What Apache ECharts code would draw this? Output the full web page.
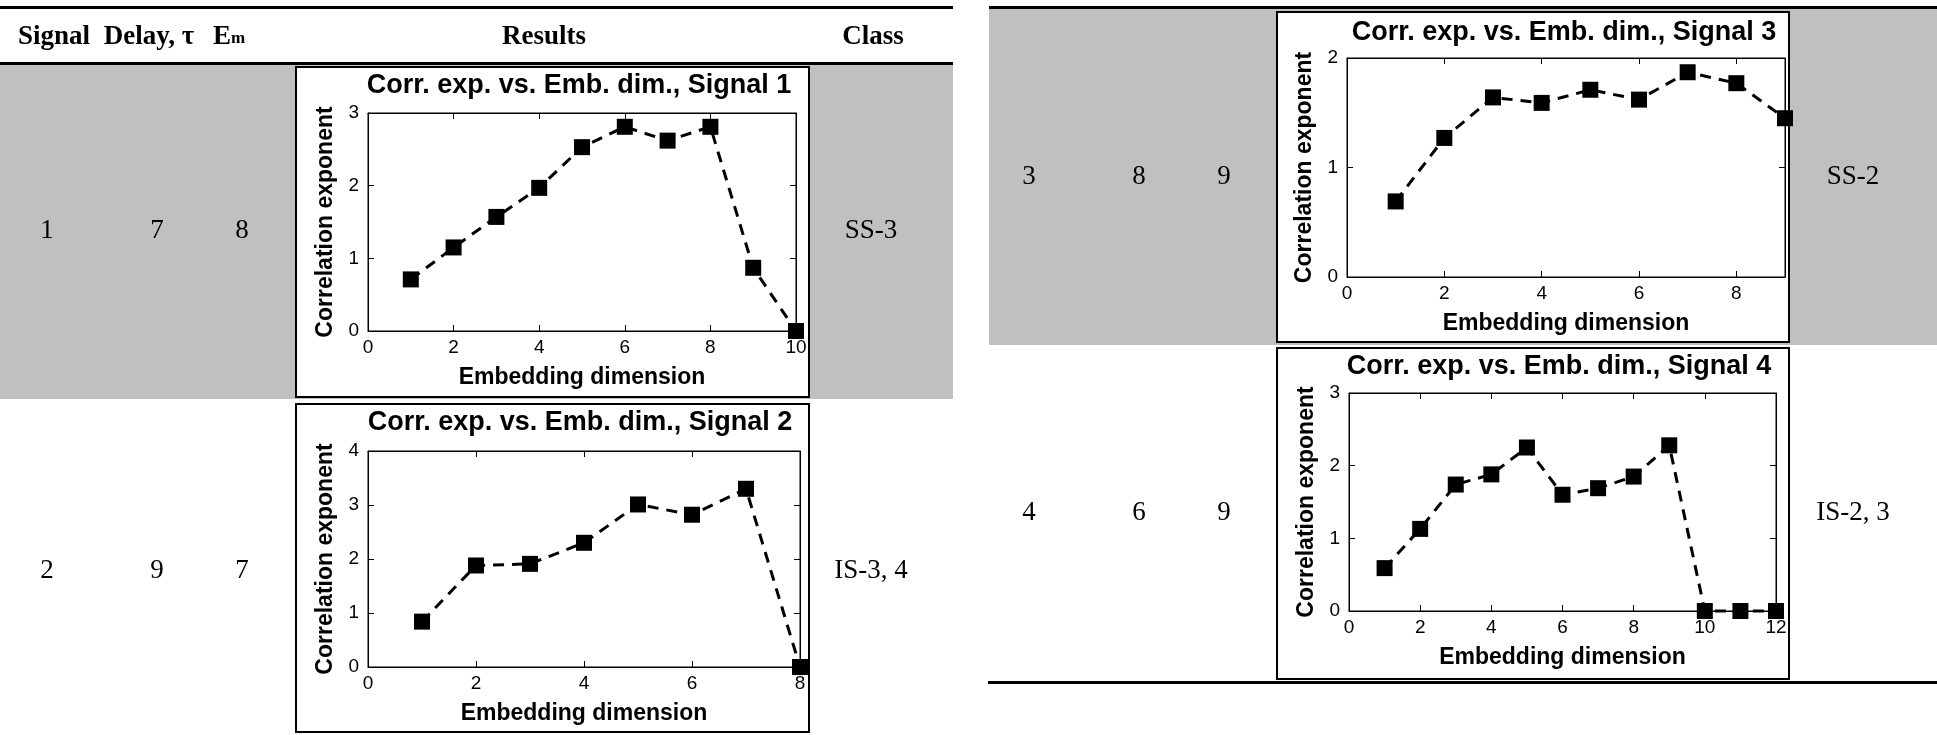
<!DOCTYPE html>
<html>
<head>
<meta charset="utf-8">
<script src="https://cdn.jsdelivr.net/npm/echarts@6/dist/echarts.min.js"></script>
<style>
  html, body { margin: 0; padding: 0; background: #fff; }
  #chart { width: 1937px; height: 735px; }
</style>
</head>
<body>
<div id="chart"></div>
<script>
// Table columns
const headers = ['Signal', 'Delay, τ', 'E', 'Results', 'Class'];
const signals = ['1', '2', '3', '4'];
const delays = ['7', '9', '8', '6'];
const embDims = ['8', '7', '9', '9'];
const classes = ['SS-3', 'IS-3, 4', 'SS-2', 'IS-2, 3'];

// Correlation exponent vs embedding dimension, per signal
const dims1 = [1, 2, 3, 4, 5, 6, 7, 8, 9, 10];
const corr1 = [0.71, 1.15, 1.57, 1.97, 2.53, 2.81, 2.62, 2.81, 0.87, 0];
const dims2 = [1, 2, 3, 4, 5, 6, 7, 8];
const corr2 = [0.84, 1.88, 1.91, 2.30, 3.01, 2.82, 3.30, 0];
const dims3 = [1, 2, 3, 4, 5, 6, 7, 8, 9];
const corr3 = [0.69, 1.27, 1.64, 1.59, 1.71, 1.62, 1.87, 1.77, 1.45];
const dims4 = [1, 2, 3, 4, 5, 6, 7, 8, 9, 10, 11, 12];
const corr4 = [0.59, 1.13, 1.74, 1.88, 2.25, 1.60, 1.69, 1.85, 2.28, 0, 0, 0];

// Axis ranges per plot
const xMax = [10, 8, 9, 12];
const yMax = [3, 4, 2, 3];

const titleText = 'Corr. exp. vs. Emb. dim., Signal ';
const xName = 'Embedding dimension';
const yName = 'Correlation exponent';

const SERIF = '"Liberation Serif", "Times New Roman", serif';
const SANS = '"Liberation Sans", Arial, sans-serif';
const GRAY = '#c0c0c0';

// Layout of each figure panel: outer box and plot area
const panels = [
  { box: [296, 67, 513, 330], plot: [368, 113, 428, 218], title: [579, 86] },
  { box: [296, 404, 513, 328], plot: [368, 451, 432, 216], title: [580, 423] },
  { box: [1277, 12, 512, 330], plot: [1347, 58, 438, 219], title: [1564, 33] },
  { box: [1277, 348, 512, 331], plot: [1349, 393, 427, 218], title: [1559, 367] }
];
const seriesX = [dims1, dims2, dims3, dims4];
const seriesY = [corr1, corr2, corr3, corr4];

function rect(x, y, w, h, fill, z) {
  return { type: 'rect', z: z, silent: true, shape: { x: x, y: y, width: w, height: h }, style: { fill: fill } };
}
function text(str, x, y, font, align, vAlign, z) {
  return {
    type: 'text', z: z || 5, silent: true, x: x, y: y,
    style: { text: str, font: font, fill: '#000', align: align, verticalAlign: vAlign, textAlign: align, textVerticalAlign: vAlign }
  };
}

const elements = [];
// left table: rules and shaded row
elements.push(rect(0, 6, 953, 3, '#000', 1));
elements.push(rect(0, 65, 953, 334, GRAY, 0));
elements.push(rect(0, 62, 953, 3, '#000', 1));
// right table
elements.push(rect(989, 9, 948, 336, GRAY, 0));
elements.push(rect(989, 6, 948, 3, '#000', 1));
elements.push(rect(988, 681, 949, 3, '#000', 1));

// header
const hFont = 'bold 27px ' + SERIF;
elements.push(text(headers[0], 54, 37, hFont, 'center', 'middle'));
elements.push(text(headers[1], 149, 37, hFont, 'center', 'middle'));
elements.push(text(headers[2], 213, 37, hFont, 'left', 'middle'));
elements.push(text('m', 231, 47, 'bold 17px ' + SERIF, 'left', 'bottom'));
elements.push(text(headers[3], 544, 37, hFont, 'center', 'middle'));
elements.push(text(headers[4], 873, 37, hFont, 'center', 'middle'));

// body rows
const rowY = [231, 571, 177, 513];
const colX = [47, 157, 242, 871];
const bFont = '27px ' + SERIF;
for (let i = 0; i < 4; i++) {
  const dx = i < 2 ? 0 : 982;
  elements.push(text(signals[i], colX[0] + dx, rowY[i], bFont, 'center', 'middle'));
  elements.push(text(delays[i], colX[1] + dx, rowY[i], bFont, 'center', 'middle'));
  elements.push(text(embDims[i], colX[2] + dx, rowY[i], bFont, 'center', 'middle'));
  elements.push(text(classes[i], colX[3] + dx, rowY[i], bFont, 'center', 'middle'));
}

// figure boxes and titles
panels.forEach(function (p, i) {
  elements.push({
    type: 'rect', z: 1, silent: true,
    shape: { x: p.box[0], y: p.box[1], width: p.box[2], height: p.box[3] },
    style: { fill: '#fff', stroke: '#000', lineWidth: 2 }
  });
  elements.push(text(titleText + signals[i], p.title[0], p.title[1], 'bold 27px ' + SANS, 'center', 'middle', 5));
});

const grids = [], xAxes = [], yAxes = [], series = [];
const tickStyle = { show: true, inside: true, length: 6, lineStyle: { color: '#000', width: 1 } };
const lineStyle = { show: true, onZero: false, lineStyle: { color: '#000', width: 1 } };

panels.forEach(function (p, i) {
  grids.push({ left: p.plot[0], top: p.plot[1], width: p.plot[2], height: p.plot[3], show: true, backgroundColor: '#fff', borderColor: '#000', borderWidth: 1, z: 3 });
  xAxes.push({
    type: 'value', gridIndex: i, position: 'bottom', min: 0, max: xMax[i], interval: 2, z: 4,
    axisLine: lineStyle, axisTick: tickStyle, splitLine: { show: false },
    axisLabel: { color: '#000', fontSize: 19, fontFamily: SANS, margin: 7, showMaxLabel: xMax[i] % 2 === 0 },
    name: xName, nameLocation: 'middle', nameGap: 35,
    nameTextStyle: { color: '#000', fontSize: 23, fontWeight: 'bold', fontFamily: SANS }
  });
  xAxes.push({
    type: 'value', gridIndex: i, position: 'top', min: 0, max: xMax[i], interval: 2, z: 4,
    axisLine: lineStyle, axisTick: tickStyle, splitLine: { show: false }, axisLabel: { show: false }
  });
  yAxes.push({
    type: 'value', gridIndex: i, position: 'left', min: 0, max: yMax[i], interval: 1, z: 4,
    axisLine: lineStyle, axisTick: tickStyle, splitLine: { show: false },
    axisLabel: { color: '#000', fontSize: 19, fontFamily: SANS, margin: 9 },
    name: yName, nameLocation: 'middle', nameGap: 31,
    nameTextStyle: { color: '#000', fontSize: 23, fontWeight: 'bold', fontFamily: SANS }
  });
  yAxes.push({
    type: 'value', gridIndex: i, position: 'right', min: 0, max: yMax[i], interval: 1, z: 4,
    axisLine: lineStyle, axisTick: tickStyle, splitLine: { show: false }, axisLabel: { show: false }
  });
  series.push({
    type: 'line', xAxisIndex: 2 * i, yAxisIndex: 2 * i, z: 6,
    data: seriesX[i].map(function (x, k) { return [x, seriesY[i][k]]; }),
    symbol: 'rect', symbolSize: 16, showSymbol: true, clip: false,
    lineStyle: { color: '#000', width: 3, type: [11, 8] },
    itemStyle: { color: '#000' },
    emphasis: { disabled: true }
  });
});

const chart = echarts.init(document.getElementById('chart'), null, { renderer: 'canvas' });
chart.setOption({
  animation: false,
  backgroundColor: '#fff',
  graphic: { elements: elements },
  grid: grids,
  xAxis: xAxes,
  yAxis: yAxes,
  series: series
});
</script>
</body>
</html>
